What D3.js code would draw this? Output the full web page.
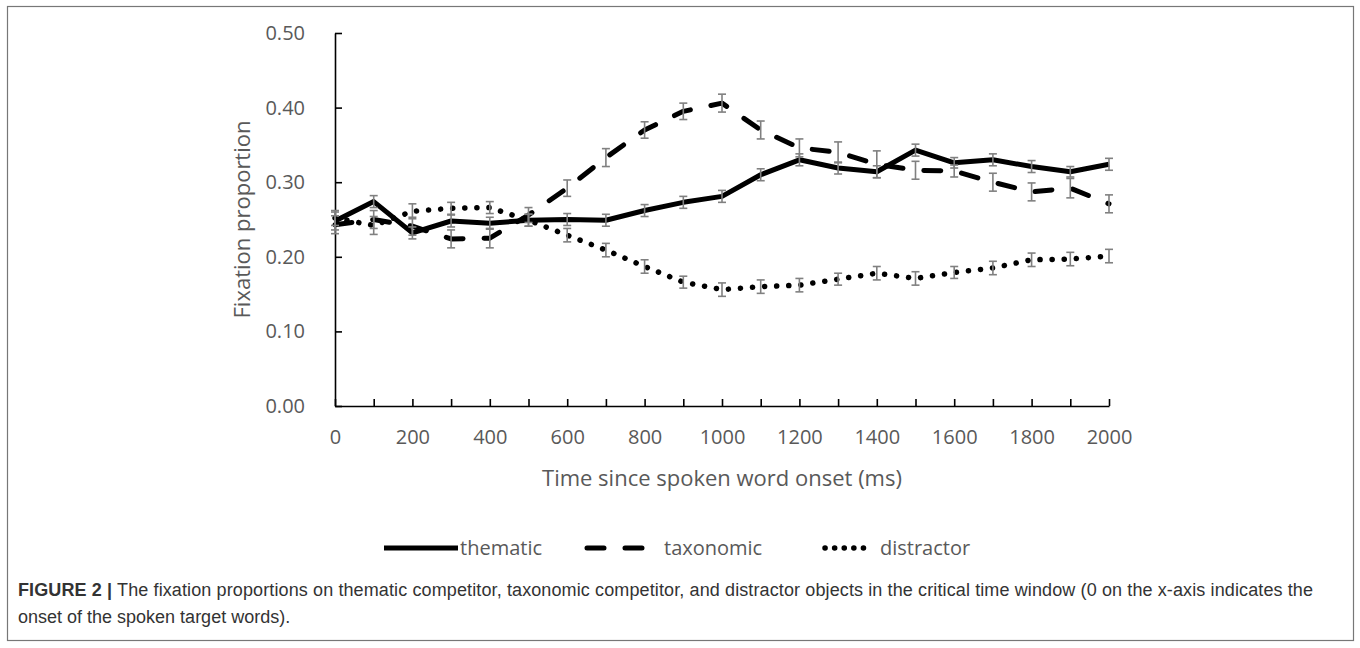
<!DOCTYPE html>
<html>
<head>
<meta charset="utf-8">
<script src="https://cdn.jsdelivr.net/npm/d3@7"></script>
<style>
  html, body { margin: 0; padding: 0; background: #fff; }
  svg { display: block; }
</style>
</head>
<body>
<svg id="chart" width="1360" height="648"></svg>
<script>
// ---- data ----
const times = [0,100,200,300,400,500,600,700,800,900,1000,1100,1200,1300,1400,1500,1600,1700,1800,1900,2000];
const thematic   = [0.248,0.274,0.232,0.248,0.245,0.249,0.250,0.249,0.262,0.273,0.281,0.310,0.330,0.319,0.314,0.343,0.326,0.330,0.321,0.314,0.324];
const taxonomic  = [0.243,0.250,0.241,0.224,0.225,0.256,0.292,0.333,0.370,0.395,0.406,0.370,0.346,0.340,0.324,0.316,0.315,0.300,0.287,0.292,0.271];
const distractor = [0.252,0.242,0.261,0.265,0.266,0.249,0.229,0.209,0.187,0.166,0.156,0.160,0.162,0.170,0.178,0.171,0.179,0.185,0.196,0.197,0.201];
const thematicErr   = [0.012,0.008,0.008,0.008,0.008,0.008,0.008,0.008,0.008,0.008,0.008,0.008,0.008,0.008,0.008,0.008,0.007,0.008,0.008,0.007,0.008];
const taxonomicErr  = [0.012,0.012,0.012,0.012,0.013,0.010,0.011,0.012,0.011,0.011,0.012,0.012,0.012,0.014,0.018,0.012,0.008,0.012,0.012,0.013,0.012];
const distractorErr = [0.010,0.012,0.010,0.008,0.008,0.008,0.009,0.009,0.009,0.008,0.009,0.009,0.009,0.008,0.009,0.009,0.008,0.009,0.009,0.009,0.009];
const seriesNames = ["thematic","taxonomic","distractor"];
const yTicks = [0,0.1,0.2,0.3,0.4,0.5];
const xLabelTicks = [0,200,400,600,800,1000,1200,1400,1600,1800,2000];
const xTitle = "Time since spoken word onset (ms)";
const yTitle = "Fixation proportion";
const captionBold = "FIGURE 2 |";
const captionLine1 = " The fixation proportions on thematic competitor, taxonomic competitor, and distractor objects in the critical time window (0 on the x-axis indicates the";
const captionLine2 = "onset of the spoken target words).";

(function () {
// ---- layout ----
const svg = d3.select("#chart");
const pLeft = 335, pRight = 1109, pTop = 33, pBottom = 406;
const x = d3.scaleLinear().domain([0, 2000]).range([pLeft, pRight]);
const y = d3.scaleLinear().domain([0, 0.5]).range([pBottom, pTop]);
const txt = "#595959";
const font = "'Open Sans', 'Noto Sans', sans-serif";

// frame
svg.append("rect").attr("x", 7.5).attr("y", 6.5).attr("width", 1346).attr("height", 634)
  .attr("fill", "none").attr("stroke", "#777").attr("stroke-width", 1.2);

// axes
const yAxis = d3.axisLeft(y).tickValues(yTicks).tickFormat(d3.format(".2f"))
  .tickSizeInner(-7).tickSizeOuter(0).tickPadding(30);
const gy = svg.append("g").attr("transform", `translate(${pLeft},0)`).call(yAxis);
const xAxis = d3.axisBottom(x).tickValues(times)
  .tickFormat(d => xLabelTicks.includes(d) ? d : "")
  .tickSizeInner(-7).tickSizeOuter(0).tickPadding(24);
const gx = svg.append("g").attr("transform", `translate(0,${pBottom})`).call(xAxis);
[gx, gy].forEach(g => {
  g.select(".domain").attr("stroke", "#000").attr("stroke-width", 1.6);
  g.selectAll(".tick line").attr("stroke", "#000").attr("stroke-width", 1.6);
  g.selectAll(".tick text").attr("fill", txt).style("font-family", font).style("font-size", "20px");
});

// titles
svg.append("text").attr("x", (pLeft + pRight) / 2).attr("y", 486).attr("text-anchor", "middle")
  .attr("fill", txt).style("font-family", font).style("font-size", "22px").text(xTitle);
svg.append("text").attr("transform", `translate(250,${(pTop + pBottom) / 2}) rotate(-90)`)
  .attr("text-anchor", "middle").attr("fill", txt)
  .style("font-family", font).style("font-size", "22px").text(yTitle);

// series
const series = [
  { name: seriesNames[0], vals: thematic,   err: thematicErr,   dash: null,     legDash: null,      cap: "butt",  w: 5 },
  { name: seriesNames[1], vals: taxonomic,  err: taxonomicErr,  dash: "17,21",  legDash: "17,21",   cap: "round", w: 5 },
  { name: seriesNames[2], vals: distractor, err: distractorErr, dash: "0.1,12", legDash: "0.1,9.5", cap: "round", w: 5.5 }
];
const line = d3.line().x(d => x(d[0])).y(d => y(d[1]));
series.forEach(s => {
  svg.append("path").datum(times.map((t, i) => [t, s.vals[i]]))
    .attr("d", line).attr("fill", "none").attr("stroke", "#000")
    .attr("stroke-width", s.w).attr("stroke-linecap", s.cap).attr("stroke-linejoin", "round")
    .attr("stroke-dasharray", s.dash);
});
// error bars
series.forEach(s => {
  const g = svg.append("g").attr("stroke", "#808080").attr("stroke-width", 1.6).attr("fill", "none");
  times.forEach((t, i) => {
    const cx = x(t), y1 = y(s.vals[i] + s.err[i]), y0 = y(s.vals[i] - s.err[i]);
    g.append("line").attr("x1", cx).attr("x2", cx).attr("y1", y1).attr("y2", y0);
    g.append("line").attr("x1", cx - 4).attr("x2", cx + 4).attr("y1", y1).attr("y2", y1);
    g.append("line").attr("x1", cx - 4).attr("x2", cx + 4).attr("y1", y0).attr("y2", y0);
  });
});

// legend
const legY = 548;
const leg = [
  { s: series[0], x1: 384, x2: 458, tx: 460 },
  { s: series[1], x1: 587, x2: 653, tx: 664 },
  { s: series[2], x1: 825, x2: 872, tx: 880 }
];
leg.forEach(l => {
  svg.append("line").attr("x1", l.x1).attr("x2", l.x2).attr("y1", legY).attr("y2", legY)
    .attr("stroke", "#000").attr("stroke-width", l.s.w).attr("stroke-linecap", l.s.cap)
    .attr("stroke-dasharray", l.s.legDash);
  svg.append("text").attr("x", l.tx).attr("y", legY + 7).attr("fill", txt)
    .style("font-family", font).style("font-size", "20px").text(l.s.name);
});

// caption
const capFont = "'Liberation Sans', Arial, sans-serif";
const c1 = svg.append("text").attr("x", 18).attr("y", 596).attr("fill", "#333")
  .style("font-family", capFont).style("font-size", "18px")
  .attr("textLength", 1295).attr("lengthAdjust", "spacing");
c1.append("tspan").style("font-weight", "bold").text(captionBold);
c1.append("tspan").text(captionLine1);
svg.append("text").attr("x", 18).attr("y", 623).attr("fill", "#333")
  .style("font-family", capFont).style("font-size", "18px").text(captionLine2);
})();
</script>
</body>
</html>
